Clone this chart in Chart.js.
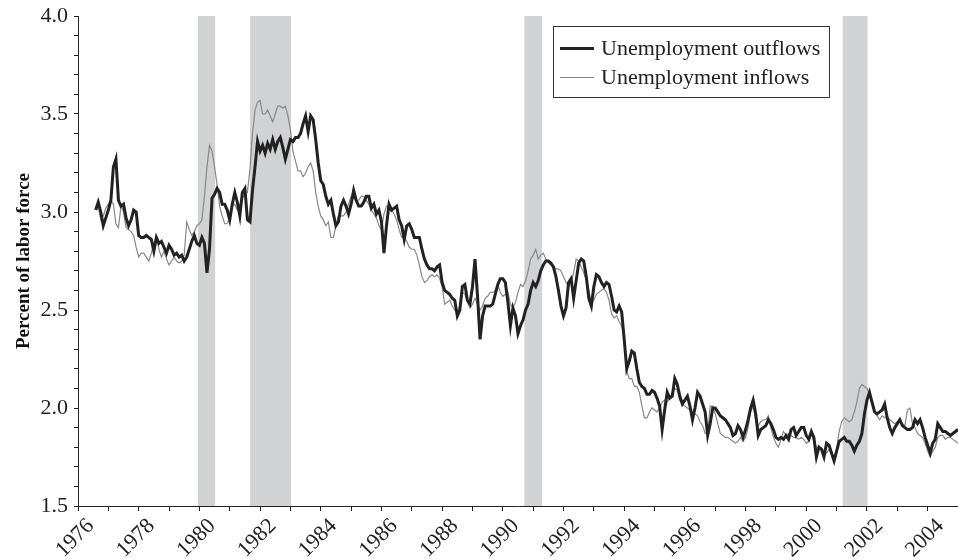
<!DOCTYPE html>
<html>
<head>
<meta charset="utf-8">
<script src="https://cdn.jsdelivr.net/npm/chart.js@4"></script>
<style>
  body { margin: 0; background: #fff; }
  #wrap { position: relative; width: 958px; height: 560px; overflow: hidden; }
  #legend {
    position: absolute; left: 553px; top: 26px; width: 275px; height: 70px;
    border: 1px solid #333; background: #fff;
    font-family: "Liberation Serif", serif; font-size: 22px; color: #222;
  }
  .row { position: absolute; left: 0; height: 24px; line-height: 24px; }
  .swatch { position: absolute; left: 6px; width: 34px; }
  .lbl { position: absolute; left: 47px; white-space: nowrap; }
  #years { position: absolute; left: 0; top: 0; }
  #years text { font-family: "Liberation Serif", serif; font-size: 22px; fill: #222; }
</style>
</head>
<body>
<div id="wrap">
  <canvas id="chart" width="958" height="560"></canvas>
  <svg id="years" width="958" height="560" xmlns="http://www.w3.org/2000/svg"></svg>
  <div id="legend">
    <div class="row" style="top:9px"><div class="swatch" style="top:11px;border-top:3px solid #222"></div><div class="lbl">Unemployment outflows</div></div>
    <div class="row" style="top:38px"><div class="swatch" style="top:12px;border-top:1px solid #888"></div><div class="lbl">Unemployment inflows</div></div>
  </div>
</div>
<script>
// monthly, Aug 1976 .. Jan 2005, percent of labor force
const startYear = 1976;
const startMonth = 7; // months after Jan 1976

const outflows = [
  3.01, 3.05, 3.00, 2.93, 2.97, 3.01, 3.06, 3.23, 3.27, 3.06,
  3.03, 3.04, 2.97, 2.93, 2.96, 3.01, 3.00, 2.88, 2.87, 2.87,
  2.88, 2.87, 2.86, 2.80, 2.87, 2.84, 2.85, 2.82, 2.79, 2.83,
  2.81, 2.78, 2.79, 2.77, 2.78, 2.75, 2.77, 2.81, 2.85, 2.88,
  2.84, 2.83, 2.87, 2.84, 2.69, 2.81, 3.07, 3.09, 3.12, 3.10,
  3.04, 3.04, 3.01, 2.96, 3.04, 3.10, 3.05, 2.98, 3.10, 3.12,
  2.96, 2.95, 3.11, 3.23, 3.36, 3.31, 3.34, 3.30, 3.35, 3.32,
  3.37, 3.32, 3.36, 3.38, 3.33, 3.27, 3.32, 3.37, 3.36, 3.38,
  3.38, 3.40, 3.45, 3.49, 3.41, 3.49, 3.47, 3.37, 3.25, 3.16,
  3.14, 3.08, 3.04, 3.06, 2.99, 2.93, 2.95, 3.03, 3.06, 3.03,
  2.99, 3.04, 3.11, 3.06, 3.03, 3.03, 3.05, 3.08, 3.08, 3.02,
  3.04, 2.99, 3.01, 2.95, 2.79, 2.93, 3.04, 3.01, 3.02, 3.03,
  2.96, 2.93, 2.86, 2.93, 2.94, 2.91, 2.87, 2.87, 2.87, 2.81,
  2.76, 2.73, 2.71, 2.71, 2.70, 2.72, 2.73, 2.64, 2.60, 2.59,
  2.58, 2.56, 2.55, 2.47, 2.50, 2.62, 2.63, 2.55, 2.53, 2.62,
  2.76, 2.57, 2.35, 2.47, 2.52, 2.52, 2.52, 2.53, 2.58, 2.63,
  2.66, 2.66, 2.64, 2.54, 2.42, 2.51, 2.47, 2.38, 2.42, 2.45,
  2.50, 2.53, 2.60, 2.64, 2.62, 2.65, 2.70, 2.73, 2.75, 2.75,
  2.74, 2.72, 2.67, 2.60, 2.52, 2.47, 2.51, 2.64, 2.66, 2.56,
  2.65, 2.74, 2.76, 2.75, 2.67, 2.56, 2.52, 2.62, 2.68, 2.67,
  2.64, 2.62, 2.64, 2.63, 2.57, 2.50, 2.49, 2.52, 2.49, 2.35,
  2.20, 2.24, 2.29, 2.28, 2.20, 2.13, 2.11, 2.10, 2.07, 2.07,
  2.09, 2.08, 2.05, 2.01, 1.89, 1.99, 2.08, 2.05, 2.06, 2.15,
  2.12, 2.06, 2.02, 2.04, 2.06, 2.01, 1.94, 2.00, 2.08, 2.06,
  2.02, 1.98, 1.86, 1.92, 2.00, 2.00, 1.98, 1.96, 1.95, 1.94,
  1.92, 1.90, 1.86, 1.87, 1.91, 1.89, 1.85, 1.89, 1.94, 2.00,
  2.04, 1.97, 1.86, 1.89, 1.90, 1.91, 1.94, 1.92, 1.89, 1.85,
  1.84, 1.85, 1.84, 1.86, 1.84, 1.89, 1.90, 1.86, 1.88, 1.90,
  1.90, 1.86, 1.84, 1.88, 1.85, 1.75, 1.80, 1.79, 1.75, 1.82,
  1.81, 1.77, 1.73, 1.78, 1.83, 1.84, 1.85, 1.83, 1.83, 1.81,
  1.78, 1.81, 1.83, 1.87, 1.97, 2.04, 2.08, 2.03, 1.98, 1.97,
  1.98, 1.99, 2.02, 1.95, 1.90, 1.87, 1.90, 1.92, 1.94, 1.91,
  1.90, 1.89, 1.89, 1.90, 1.94, 1.92, 1.94, 1.90, 1.85, 1.81,
  1.77, 1.82, 1.84, 1.92, 1.90, 1.88, 1.88, 1.87, 1.86, 1.87,
  1.88, 1.89
];

const inflows = [
  3.02, 3.03, 2.96, 2.98, 3.02, 3.04, 3.06, 3.04, 2.94, 2.92,
  3.03, 3.00, 2.92, 2.91, 2.90, 2.88, 2.82, 2.77, 2.79, 2.79,
  2.77, 2.75, 2.79, 2.84, 2.87, 2.81, 2.77, 2.80, 2.76, 2.73,
  2.75, 2.77, 2.75, 2.74, 2.75, 2.78, 2.95, 2.91, 2.88, 2.90,
  2.93, 2.94, 2.96, 3.08, 3.23, 3.34, 3.31, 3.23, 3.14, 3.03,
  2.98, 2.94, 2.94, 2.97, 3.03, 3.04, 3.01, 3.04, 3.07, 3.09,
  3.10, 3.22, 3.40, 3.52, 3.56, 3.57, 3.50, 3.50, 3.52, 3.49,
  3.46, 3.50, 3.54, 3.54, 3.53, 3.54, 3.49, 3.42, 3.31, 3.26,
  3.21, 3.21, 3.18, 3.20, 3.23, 3.25, 3.21, 3.10, 3.03, 2.98,
  2.96, 2.93, 2.95, 2.87, 2.87, 2.93, 2.98, 2.98, 2.98, 3.00,
  3.04, 3.08, 3.07, 3.06, 3.06, 3.08, 3.08, 3.06, 3.04, 3.01,
  2.99, 2.97, 2.93, 2.91, 2.99, 3.03, 3.03, 3.01, 2.99, 2.96,
  2.91, 2.87, 2.87, 2.85, 2.82, 2.81, 2.81, 2.78, 2.73, 2.67,
  2.64, 2.65, 2.67, 2.68, 2.67, 2.68, 2.66, 2.62, 2.53, 2.54,
  2.55, 2.52, 2.50, 2.49, 2.52, 2.59, 2.58, 2.54, 2.51, 2.53,
  2.56, 2.53, 2.50, 2.52, 2.56, 2.57, 2.59, 2.59, 2.60, 2.63,
  2.59, 2.57, 2.58, 2.59, 2.53, 2.51, 2.54, 2.59, 2.63, 2.62,
  2.65, 2.70, 2.76, 2.78, 2.81, 2.76, 2.78, 2.79, 2.76, 2.74,
  2.73, 2.72, 2.71, 2.71, 2.70, 2.67, 2.64, 2.62, 2.64, 2.69,
  2.76, 2.75, 2.72, 2.69, 2.65, 2.60, 2.54, 2.55, 2.58, 2.59,
  2.60, 2.61, 2.59, 2.55, 2.48, 2.46, 2.47, 2.44, 2.42, 2.36,
  2.19, 2.15, 2.15, 2.11, 2.11, 2.08, 2.01, 1.95, 1.95, 1.98,
  2.00, 1.99, 1.98, 2.00, 2.03, 2.04, 2.03, 2.05, 2.08, 2.10,
  2.09, 2.04, 2.02, 2.01, 2.00, 1.99, 1.97, 1.97, 1.96, 1.93,
  1.91, 1.87, 1.87, 2.01, 2.01, 1.97, 1.92, 1.87, 1.86, 1.85,
  1.85, 1.84, 1.83, 1.82, 1.83, 1.85, 1.83, 1.85, 1.90, 1.98,
  2.01, 1.94, 1.91, 1.93, 1.94, 1.94, 1.96, 1.90, 1.85, 1.82,
  1.80, 1.84, 1.88, 1.86, 1.87, 1.86, 1.85, 1.85, 1.84, 1.85,
  1.84, 1.82, 1.83, 1.87, 1.83, 1.80, 1.79, 1.79, 1.78, 1.77,
  1.79, 1.76, 1.74, 1.79, 1.88, 1.93, 1.95, 1.94, 1.93, 1.94,
  1.98, 2.03, 2.10, 2.12, 2.11, 2.10, 2.07, 2.02, 1.98, 1.96,
  1.94, 1.96, 1.95, 1.96, 1.94, 1.93, 1.92, 1.93, 1.94, 1.92,
  1.91, 1.99, 2.00, 1.92, 1.90, 1.87, 1.86, 1.85, 1.82, 1.78,
  1.75, 1.78, 1.80, 1.85, 1.86, 1.86, 1.84, 1.85, 1.85, 1.84,
  1.83, 1.82
];

// shaded recessions (in fractional years)
const recessionStart = [1979.95, 1981.67, 1990.71, 2001.20];
const recessionEnd   = [1980.52, 1983.02, 1991.29, 2002.02];

// labelled years on the x axis (ticks every year)
const yearLabels = [1976, 1978, 1980, 1982, 1984, 1986, 1988, 1990,
                    1992, 1994, 1996, 1998, 2000, 2002, 2004];

const serif = '"Liberation Serif", "Times New Roman", serif';

function toPoints(vals) {
  return vals.map((v, i) => ({ x: startYear + (startMonth + i) / 12, y: v }));
}

const recessionBands = {
  id: 'recessionBands',
  beforeDatasetsDraw(chart) {
    const { ctx, chartArea, scales } = chart;
    ctx.save();
    ctx.fillStyle = '#d1d2d4';
    for (let i = 0; i < recessionStart.length; i++) {
      const x1 = scales.x.getPixelForValue(recessionStart[i]);
      const x2 = scales.x.getPixelForValue(recessionEnd[i]);
      ctx.fillRect(x1, chartArea.top, x2 - x1, chartArea.bottom - chartArea.top);
    }
    ctx.restore();
  }
};

const chart = new Chart(document.getElementById('chart'), {
  type: 'line',
  data: {
    datasets: [
      {
        label: 'Unemployment outflows',
        data: toPoints(outflows),
        borderColor: '#222',
        borderWidth: 3,
        pointRadius: 0,
        tension: 0
      },
      {
        label: 'Unemployment inflows',
        data: toPoints(inflows),
        borderColor: '#888',
        borderWidth: 1.2,
        pointRadius: 0,
        tension: 0
      }
    ]
  },
  options: {
    responsive: false,
    animation: false,
    devicePixelRatio: 1,
    layout: { padding: { top: 16, left: 0, right: 0, bottom: 0 } },
    plugins: {
      legend: { display: false },
      tooltip: { enabled: false }
    },
    scales: {
      x: {
        type: 'linear',
        min: 1976,
        max: 2005,
        afterFit(scale) {
          scale.height = 54;
          scale.paddingLeft = 0; scale.paddingRight = 0;
        },
        border: { display: true, color: '#222', width: 1 },
        grid: { drawOnChartArea: false, drawTicks: true, tickLength: 5, color: '#222' },
        ticks: {
          stepSize: 1,
          autoSkip: false,
          maxRotation: 0,
          callback: () => ''
        }
      },
      y: {
        min: 1.5,
        max: 4.0,
        afterFit(scale) {
          scale.width = 78;
          scale.paddingTop = 0; scale.paddingBottom = 0;
        },
        border: { display: true, color: '#222', width: 1 },
        grid: { drawOnChartArea: false, drawTicks: true, tickLength: 4, color: '#222' },
        ticks: {
          stepSize: 0.1,
          autoSkip: false,
          padding: 6,
          color: '#222',
          font: { family: serif, size: 22 },
          callback: v => (Math.round(v * 10) % 5 === 0) ? v.toFixed(1) : ''
        },
        title: {
          display: true,
          text: 'Percent of labor force',
          color: '#111',
          padding: { top: 13, bottom: 0 },
          font: { family: serif, size: 19, weight: 'bold' }
        }
      }
    }
  },
  plugins: [recessionBands]
});

// slanted year labels as svg text, centred under the x scale's ticks
const svg = document.getElementById('years');
const xs = chart.scales.x;
yearLabels.forEach(yr => {
  const cx = xs.getPixelForValue(yr) - 4;
  const cy = chart.chartArea.bottom + 31;
  const t = document.createElementNS('http://www.w3.org/2000/svg', 'text');
  t.setAttribute('x', cx);
  t.setAttribute('y', cy);
  t.setAttribute('text-anchor', 'middle');
  t.setAttribute('dominant-baseline', 'central');
  t.setAttribute('transform', 'rotate(-45 ' + cx + ' ' + cy + ')');
  t.textContent = String(yr);
  svg.appendChild(t);
});
</script>
</body>
</html>
